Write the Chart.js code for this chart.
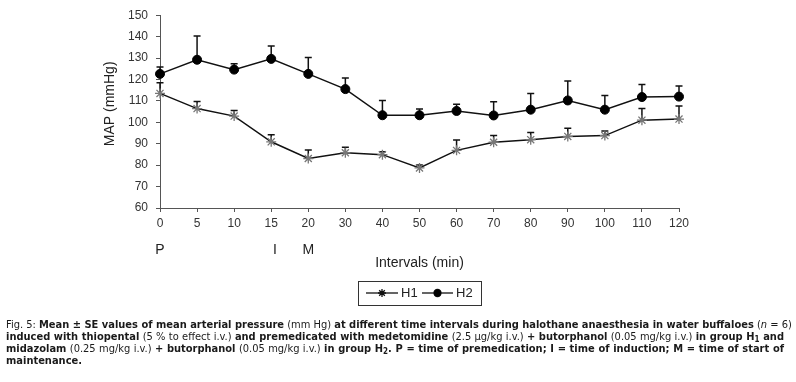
<!DOCTYPE html>
<html>
<head>
<meta charset="utf-8">
<script src="https://cdn.jsdelivr.net/npm/chart.js@4.4.0/dist/chart.umd.min.js"></script>
<style>
    body { margin: 0; background: #fff; }
    #wrap { position: relative; width: 796px; height: 382px; }
    #caption {
        position: absolute; left: 6px; top: 319px; width: 778px;
        font-family: "Liberation Sans Narrow", "DejaVu Sans Condensed", "Liberation Sans", Arial, sans-serif;
        font-stretch: condensed; font-size: 11px; line-height: 12px; color: #1a1a1a;
    }
    #caption div { white-space: nowrap; text-align: justify; text-align-last: justify; }
    #caption div.last { text-align-last: left; }
    #caption b { font-weight: bold; }
    #caption sub { font-size: 8px; vertical-align: -2px; line-height: 0; }
</style>
</head>
<body>
<div id="wrap">
    <canvas id="mapChart" width="796" height="382"></canvas>
    <div id="caption">
        <div>Fig. 5: <b>Mean ± SE values of mean arterial pressure</b> (mm Hg) <b>at different time intervals during halothane anaesthesia in water buffaloes</b> (<i>n</i> = 6)</div>
        <div><b>induced with thiopental</b> (5 % to effect i.v.) <b>and premedicated with medetomidine</b> (2.5 µg/kg i.v.) <b>+ butorphanol</b> (0.05 mg/kg i.v.) <b>in group H<sub>1</sub> and</b></div>
        <div><b>midazolam</b> (0.25 mg/kg i.v.) <b>+ butorphanol</b> (0.05 mg/kg i.v.) <b>in group H<sub>2</sub>. P = time of premedication; I = time of induction; M = time of start of</b></div>
        <div class="last"><b>maintenance.</b></div>
    </div>
</div>
<script>
// intervals in minutes (category axis)
var intervals = ["0", "5", "10", "15", "20", "30", "40", "50", "60", "70", "80", "90", "100", "110", "120"];

// group H1 (medetomidine + butorphanol)
var h1Mean = [113.5, 106.4, 102.9, 90.9, 83.1, 85.8, 84.9, 78.7, 86.9, 90.7, 91.9, 93.4, 93.8, 101.0, 101.5];
var h1SE = [5.0, 3.3, 2.6, 3.3, 4.0, 2.6, 1.3, 1.4, 4.9, 3.2, 3.4, 3.8, 2.1, 5.4, 6.1];

// group H2 (midazolam + butorphanol)
var h2Mean = [122.6, 129.2, 124.6, 129.6, 122.6, 115.5, 103.3, 103.3, 105.3, 103.2, 105.9, 110.2, 105.9, 111.8, 112.0];
var h2SE = [3.2, 11.1, 2.7, 6.0, 7.6, 5.2, 6.9, 2.9, 3.1, 6.4, 7.6, 9.1, 6.6, 5.8, 5.0];

// event markers under the x axis: P, I, M
var eventLabels = ["P", "I", "M"];
var eventPositions = [0, 3.1, 4];

var axisColor = '#555';
var textColor = '#222';
var fontFamily = "'Liberation Sans', Arial, sans-serif";

// upward error bars (mean + SE) drawn with the chart scales
var errorBarPlugin = {
    id: 'errorBars',
    beforeDatasetsDraw: function (chart) {
        var ctx = chart.ctx;
        var xScale = chart.scales.x;
        var yScale = chart.scales.y;
        ctx.save();
        ctx.strokeStyle = '#111';
        ctx.lineWidth = 1.5;
        chart.data.datasets.forEach(function (ds) {
            for (var i = 0; i < ds.data.length; i++) {
                var x = xScale.getPixelForValue(i);
                var y0 = yScale.getPixelForValue(ds.data[i]);
                var y1 = yScale.getPixelForValue(ds.data[i] + ds.se[i]);
                ctx.beginPath();
                ctx.moveTo(x, y0);
                ctx.lineTo(x, y1);
                ctx.moveTo(x - 3.5, y1);
                ctx.lineTo(x + 3.5, y1);
                ctx.stroke();
            }
        });
        ctx.restore();
    }
};

// P / I / M labels and boxed legend
var extrasPlugin = {
    id: 'extras',
    afterDraw: function (chart) {
        var ctx = chart.ctx;
        var xScale = chart.scales.x;
        ctx.save();
        ctx.fillStyle = textColor;
        ctx.font = "14px " + fontFamily;
        ctx.textAlign = 'center';
        ctx.textBaseline = 'middle';
        for (var i = 0; i < eventLabels.length; i++) {
            ctx.fillText(eventLabels[i], xScale.getPixelForValue(eventPositions[i]), 250);
        }

        // legend box
        ctx.strokeStyle = '#333';
        ctx.lineWidth = 1;
        ctx.strokeRect(358.5, 281.5, 123, 24);
        var yMid = 293;
        var items = [
            { ds: chart.data.datasets[0], x0: 366, x1: 398, tx: 401 },
            { ds: chart.data.datasets[1], x0: 422, x1: 453, tx: 456 }
        ];
        items.forEach(function (it) {
            ctx.strokeStyle = '#111';
            ctx.lineWidth = 1.3;
            ctx.beginPath();
            ctx.moveTo(it.x0, yMid);
            ctx.lineTo(it.x1, yMid);
            ctx.stroke();
            Chart.helpers.drawPoint(ctx, {
                pointStyle: it.ds.pointStyle,
                radius: it.ds.pointStyle === 'circle' ? 3.5 : 4,
                borderWidth: 1.3
            }, (it.x0 + it.x1) / 2, yMid);
            if (it.ds.pointStyle === 'circle') {
                ctx.fillStyle = '#000';
                ctx.beginPath();
                ctx.arc((it.x0 + it.x1) / 2, yMid, 3.5, 0, Math.PI * 2);
                ctx.fill();
            }
            ctx.fillStyle = textColor;
            ctx.font = "13px " + fontFamily;
            ctx.textAlign = 'left';
            ctx.fillText(it.ds.label, it.tx, yMid + 0.5);
        });
        ctx.restore();
    }
};

var mapChart = new Chart("mapChart", {
    type: "line",
    data: {
        labels: intervals,
        datasets: [{
            label: "H1",
            data: h1Mean,
            se: h1SE,
            borderColor: '#111',
            borderWidth: 1.5,
            pointStyle: 'star',
            pointRadius: 5,
            pointBorderColor: '#777',
            pointBorderWidth: 1.3,
            pointBackgroundColor: '#777',
            tension: 0,
            fill: false
        },
        {
            label: "H2",
            data: h2Mean,
            se: h2SE,
            borderColor: '#111',
            borderWidth: 1.5,
            pointStyle: 'circle',
            pointRadius: 4.5,
            pointBorderColor: '#000',
            pointBorderWidth: 1,
            pointBackgroundColor: '#000',
            tension: 0,
            fill: false
        }]
    },
    options: {
        responsive: false,
        animation: false,
        layout: {
            padding: { left: 98, right: 117, top: 11, bottom: 106 }
        },
        plugins: {
            legend: { display: false },
            tooltip: { enabled: false }
        },
        scales: {
            x: {
                type: 'category',
                offset: false,
                afterFit: function (scale) { scale.height = 68; },
                grid: { drawOnChartArea: false, drawTicks: true, tickLength: 4, color: axisColor },
                border: { color: axisColor, width: 1 },
                ticks: {
                    color: '#333',
                    padding: 4,
                    maxRotation: 0,
                    autoSkip: false,
                    font: { size: 12, family: fontFamily }
                },
                title: {
                    display: true,
                    text: 'Intervals (min)',
                    color: textColor,
                    font: { size: 14, family: fontFamily }
                }
            },
            y: {
                min: 60,
                max: 150,
                afterFit: function (scale) { scale.width = 62; },
                grid: { drawOnChartArea: false, drawTicks: true, tickLength: 4, color: axisColor },
                border: { color: axisColor, width: 1 },
                ticks: {
                    stepSize: 10,
                    color: '#333',
                    padding: 8,
                    font: { size: 12, family: fontFamily }
                },
                title: {
                    display: true,
                    text: '    MAP (mmHg)',
                    color: textColor,
                    font: { size: 14, family: fontFamily }
                }
            }
        }
    },
    plugins: [errorBarPlugin, extrasPlugin]
});
</script>
</body>
</html>
